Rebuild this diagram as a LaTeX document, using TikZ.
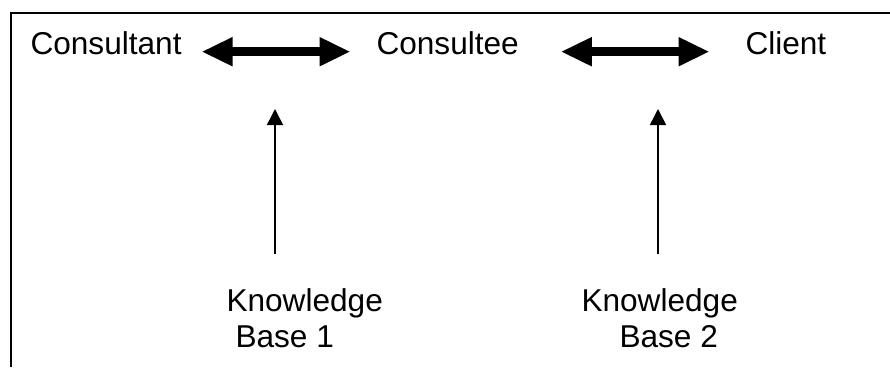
\documentclass[tikz,border=0pt]{standalone}
\usepackage{fontspec}
\setmainfont{Liberation Sans}
\usetikzlibrary{arrows.meta}
\begin{document}
\begin{tikzpicture}[x=1pt,y=-1pt,
  lbl/.style={inner sep=0pt,outer sep=0pt,font=\fontsize{31.6}{36}\selectfont},
  biarrow/.style={line width=9pt,
    {Triangle[length=31pt,width=27pt]}-{Triangle[length=31pt,width=27pt]}},
  uparrow/.style={line width=1.5pt,-{Triangle[length=16pt,width=16pt]}},
  frame/.style={line width=1.8pt}]
  \useasboundingbox (0,0) rectangle (890,367);

  % frame: only the top and left edges fall inside the page
  \draw[frame] (11,367) -- (11,13) -- (890,13);

  % the three parties
  \node[lbl,anchor=base west] (consultant) at (30.5,54.5) {Consultant};
  \node[lbl,anchor=base west] (consultee) at (376.5,54.5) {Consultee};
  \node[lbl,anchor=base west] (client) at (745.5,54.5) {Client};

  % two-way links between them
  \draw[biarrow,shorten <=20pt,shorten >=26pt] ([yshift=-8.5pt]consultant.east) -- ([yshift=-8.5pt]consultee.west);
  \draw[biarrow,shorten <=42pt,shorten >=36pt] ([yshift=-8.5pt]consultee.east) -- ([yshift=-8.5pt]client.west);

  % knowledge bases
  \node[lbl,anchor=north west,align=left] (kb1) at (226.5,289) {Knowledge\\\hspace*{9pt}Base 1};
  \node[lbl,anchor=north west,align=left] (kb2) at (581.5,289) {Knowledge\\\hspace*{38pt}Base 2};

  % arrows feeding each link
  \coordinate (s1) at (275,254);
  \coordinate (t1) at (275,109);
  \coordinate (s2) at (658,254);
  \coordinate (t2) at (658,109);
  \draw[uparrow] (s1) -- (t1);
  \draw[uparrow] (s2) -- (t2);
\end{tikzpicture}
\end{document}
